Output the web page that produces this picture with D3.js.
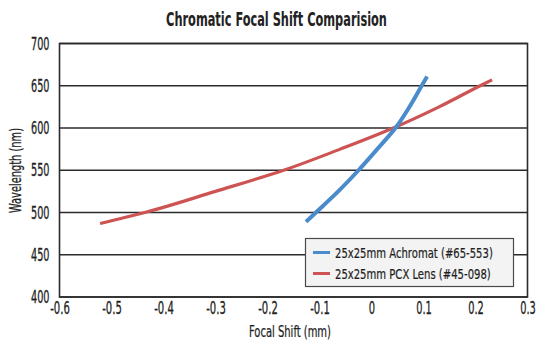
<!DOCTYPE html>
<html><head><meta charset="utf-8">
<script src="https://cdn.jsdelivr.net/npm/d3@7"></script>
<style>
body{margin:0;background:#fff;}
text{font-family:"DejaVu Sans Condensed","DejaVu Sans",sans-serif;}
</style></head>
<body><svg id="c" width="550" height="350"></svg>
<script>
const title = "Chromatic Focal Shift Comparision";
const xLabel = "Focal Shift (mm)";
const yLabel = "Wavelength (nm)";
const xTicks = [-0.6,-0.5,-0.4,-0.3,-0.2,-0.1,0,0.1,0.2,0.3];
const yTicks = [400,450,500,550,600,650,700];
const seriesNames = ["25x25mm Achromat (#65-553)","25x25mm PCX Lens (#45-098)"];
const seriesColors = ["#4a8bcb","#cd5452"];
const achromatShift = [-0.126,-0.107,-0.064,-0.025,0.011,0.046,0.073,0.0965,0.107];
const achromatWave  = [489,500,525,550,575,600,625,650,661];
const pcxShift = [-0.522,-0.436,-0.300,-0.169,-0.060,0.042,0.130,0.209,0.232];
const pcxWave  = [487,500,525,550,575,600,625,650,657];

const svg = d3.select("#c");
const m = {l:59.5,r:527.5,t:43.5,b:297};
const x = d3.scaleLinear().domain([-0.6,0.3]).range([m.l,m.r]);
const y = d3.scaleLinear().domain([400,700]).range([m.b,m.t]);

function estW(s){ let w=0; for(const c of s){ w += /[0-9]/.test(c)?6.3:(c==="."?3:(c==="-"?4:6)); } return w; }
// horizontally squeeze a text element (condensed look) to a target width
function fit(node, w){
  const nat = node.getComputedTextLength();
  const k = w/nat;
  const sel = d3.select(node);
  const x0 = +(sel.attr("x")||0);
  const t = sel.attr("transform")||"";
  sel.attr("transform", `${t} translate(${x0},0) scale(${k},1) translate(${-x0},0)`);
}

// gridlines
svg.append("g").selectAll("line").data(yTicks).join("line")
  .attr("x1",m.l).attr("x2",m.r).attr("y1",d=>y(d)).attr("y2",d=>y(d))
  .attr("stroke","#2b2b2b").attr("stroke-width",1.4);
// border
svg.append("rect").attr("x",m.l).attr("y",m.t).attr("width",m.r-m.l).attr("height",m.b-m.t)
  .attr("fill","none").attr("stroke","#2b2b2b").attr("stroke-width",1.6);

// axes
const fmt = d=> d===0?"0":d3.format(".1f")(d).replace("\u2212","-");
const xa = d3.axisBottom(x).tickValues(xTicks).tickFormat(fmt).tickSize(0).tickPadding(0);
const gx = svg.append("g").attr("transform",`translate(0,${m.b})`).call(xa);
gx.select(".domain").remove();
gx.selectAll("text").attr("font-size",17.5).attr("fill","#1e1e1e").attr("y",17.5).attr("dy",null)
  .attr("stroke","#1e1e1e").attr("stroke-width",0.3)
  .each(function(d){ fit(this, estW(fmt(d))); });
const ya = d3.axisLeft(y).tickValues(yTicks).tickFormat(d3.format("d")).tickSize(0).tickPadding(0);
const gy = svg.append("g").attr("transform",`translate(${m.l},0)`).call(ya);
gy.select(".domain").remove();
gy.selectAll("text").attr("font-size",17).attr("fill","#1e1e1e").attr("x",-10).attr("dy","0.33em")
  .attr("stroke","#1e1e1e").attr("stroke-width",0.3)
  .each(function(){ fit(this, 18.5); });

// lines
const line = d3.line().x(d=>x(d[0])).y(d=>y(d[1])).curve(d3.curveMonotoneY);
const series = [d3.zip(achromatShift,achromatWave), d3.zip(pcxShift,pcxWave)];
svg.append("path").datum(series[1]).attr("d",line).attr("fill","none")
  .attr("stroke",seriesColors[1]).attr("stroke-width",3.2);
svg.append("path").datum(series[0]).attr("d",line).attr("fill","none")
  .attr("stroke",seriesColors[0]).attr("stroke-width",4);

// titles
const tt = svg.append("text").attr("x",276.5).attr("y",26.5).attr("text-anchor","middle")
  .attr("font-size",19).attr("font-weight","bold").attr("fill","#222").text(title);
fit(tt.node(), 221);
const xt = svg.append("text").attr("x",290).attr("y",337).attr("text-anchor","middle")
  .attr("font-size",16.5).attr("fill","#1e1e1e").attr("stroke","#1e1e1e").attr("stroke-width",0.25).text(xLabel);
fit(xt.node(), 82);
const yt = svg.append("text").attr("transform","translate(21,170.5) rotate(-90)").attr("text-anchor","middle")
  .attr("font-size",16.5).attr("fill","#1e1e1e").attr("stroke","#1e1e1e").attr("stroke-width",0.25).text(yLabel);
fit(yt.node(), 85);

// legend
const lg = svg.append("g");
lg.append("rect").attr("x",305.5).attr("y",238.5).attr("width",208).attr("height",48)
  .attr("fill","#f3f3f3").attr("stroke","#4a4a4a").attr("stroke-width",1.2);
const legW = [158,156];
seriesNames.forEach((n,i)=>{
  const yy = 252.5 + i*21;
  lg.append("line").attr("x1",313).attr("x2",330).attr("y1",yy).attr("y2",yy)
    .attr("stroke",seriesColors[i]).attr("stroke-width",3);
  const t = lg.append("text").attr("x",335).attr("y",yy).attr("dy","0.36em")
    .attr("font-size",14).attr("fill","#1e1e1e").attr("stroke","#1e1e1e").attr("stroke-width",0.2).text(n);
  fit(t.node(), legW[i]);
});
</script></body></html>
